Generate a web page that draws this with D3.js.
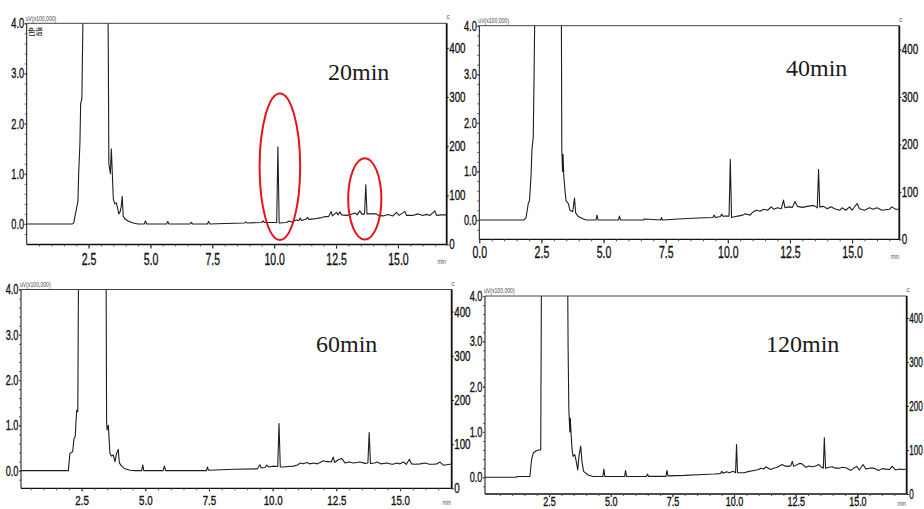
<!DOCTYPE html>
<html><head><meta charset="utf-8">
<script src="https://cdn.jsdelivr.net/npm/d3@7"></script>
<style>body{margin:0;background:#fff}svg{display:block}</style>
</head><body><svg id="c" width="924" height="509"></svg>
<script>
// ---------- data ----------
const panelLabels = ["20min", "40min", "60min", "120min"];
const leftTicks = [0, 1, 2, 3, 4];
const leftTickLabels = ["0.0", "1.0", "2.0", "3.0", "4.0"];
const rightTicks = [0, 100, 200, 300, 400];
const rightTickLabels = ["0", "100", "200", "300", "400"];
const timeTicks = [0, 2.5, 5, 7.5, 10, 12.5, 15];
const timeTickLabels = ["0.0", "2.5", "5.0", "7.5", "10.0", "12.5", "15.0"];
const leftUnit = "uV(x100,000)";
const rightUnit = "c";
const timeUnit = "min";
const traceTitle = "色谱";

// [time (min), signal (uV x100,000)]
const trace20 = [[0,0],[1.85,0],[1.9,0.02],[1.97,0.2],[2.03,0.35],[2.07,0.45],[2.1,1.0],[2.15,1.6],[2.18,2.4],[2.23,2.5],[2.27,4.0],[2.3,4.6],
[3.28,4.6],[3.3,3.2],[3.32,1.2],[3.38,1.0],[3.42,1.5],[3.46,1.0],[3.5,0.5],[3.56,0.4],[3.62,0.42],[3.68,0.3],[3.72,0.2],[3.78,0.25],[3.82,0.35],[3.86,0.55],[3.9,0.15],[3.97,0.1],[4.1,0.06],[4.3,0.02],[4.5,0.0],[4.75,0.0],[4.8,0.06],[4.85,0.0],[5.65,0.0],[5.7,0.05],[5.75,0.0],[6.6,0.0],[6.65,0.03],[6.7,0.0],[7.3,0.0],[7.35,0.05],[7.4,0.0],[8.0,0.01],[8.8,0.02],[8.85,0.04],[8.9,0.02],[9.5,0.03],[9.55,0.06],[9.6,0.03],[9.9,0.03],[10.1,0.03],[10.15,1.54],[10.2,0.02],[10.5,0.03],[10.6,0.06],[10.7,0.04],[10.9,0.08],[11.0,0.07],[11.05,0.12],[11.1,0.07],[11.3,0.1],[11.35,0.13],[11.4,0.09],[11.6,0.1],[11.85,0.12],[12.0,0.14],[12.2,0.15],[12.3,0.25],[12.35,0.16],[12.52,0.23],[12.58,0.18],[12.66,0.24],[12.72,0.18],[12.93,0.17],[13.1,0.19],[13.26,0.22],[13.35,0.18],[13.46,0.26],[13.55,0.19],[13.65,0.2],[13.7,0.78],[13.75,0.2],[13.9,0.2],[14.13,0.2],[14.2,0.17],[14.4,0.16],[14.6,0.19],[14.8,0.16],[14.94,0.23],[15.05,0.17],[15.28,0.25],[15.35,0.17],[15.6,0.17],[15.82,0.2],[16.0,0.17],[16.15,0.19],[16.3,0.17],[16.49,0.26],[16.56,0.17],[16.75,0.18],[17,0.18]];

const trace40 = [[0,0],[1.8,0],[1.88,0.05],[1.93,0.2],[1.97,0.34],[2.02,0.4],[2.05,0.65],[2.08,0.9],[2.12,1.45],[2.17,1.7],[2.2,2.8],[2.24,4.6],
[3.3,4.6],[3.32,1.45],[3.35,1.0],[3.37,1.35],[3.4,0.9],[3.45,0.6],[3.49,0.4],[3.58,0.34],[3.65,0.2],[3.76,0.17],[3.83,0.45],[3.88,0.14],[3.99,0.07],[4.19,0.02],[4.33,0.0],[4.7,0.0],[4.73,0.1],[4.78,0.0],[5.6,0.0],[5.64,0.08],[5.68,0.0],[6.6,0.0],[6.65,0.02],[7.3,0.0],[7.33,0.05],[7.37,0.0],[8.0,0.02],[8.8,0.04],[9.4,0.05],[9.45,0.1],[9.5,0.05],[9.7,0.07],[9.75,0.12],[9.8,0.08],[10.05,0.08],[10.1,1.25],[10.15,0.05],[10.4,0.08],[10.6,0.1],[10.7,0.13],[10.9,0.1],[11.0,0.16],[11.15,0.2],[11.3,0.18],[11.45,0.22],[11.6,0.2],[11.75,0.27],[11.85,0.22],[12.0,0.25],[12.15,0.23],[12.24,0.41],[12.3,0.25],[12.45,0.27],[12.6,0.26],[12.7,0.38],[12.8,0.28],[13.0,0.26],[13.2,0.28],[13.45,0.3],[13.55,0.27],[13.6,0.25],[13.65,1.04],[13.7,0.27],[13.85,0.28],[14.0,0.23],[14.15,0.27],[14.3,0.23],[14.5,0.2],[14.6,0.25],[14.75,0.2],[14.9,0.27],[15.0,0.2],[15.2,0.34],[15.3,0.23],[15.5,0.2],[15.7,0.25],[15.85,0.22],[16.0,0.25],[16.2,0.2],[16.5,0.22],[16.6,0.27],[16.75,0.22],[16.9,0.22]];

const trace60 = [[0.1,0],[1.98,0],[2.04,0.38],[2.1,0.4],[2.15,0.42],[2.2,0.71],[2.25,0.75],[2.28,1.1],[2.31,1.33],[2.35,1.3],[2.38,4.6],
[3.46,4.6],[3.48,1.1],[3.5,0.9],[3.55,1.0],[3.58,0.7],[3.61,0.38],[3.68,0.32],[3.74,0.35],[3.81,0.2],[3.87,0.38],[3.94,0.47],[3.98,0.17],[4.07,0.1],[4.2,0.04],[4.4,0.01],[4.6,0],[4.86,0],[4.9,0.13],[4.94,0],[5.7,0],[5.75,0.1],[5.8,0],[6.5,0],[7.4,0],[7.44,0.08],[7.48,0.01],[8.5,0.03],[9.4,0.04],[9.5,0.13],[9.55,0.06],[9.7,0.07],[9.77,0.12],[9.85,0.08],[10.03,0.1],[10.2,0.09],[10.25,1.04],[10.3,0.08],[10.42,0.08],[10.6,0.09],[10.82,0.1],[11.0,0.13],[11.08,0.17],[11.2,0.15],[11.34,0.18],[11.45,0.15],[11.6,0.17],[11.75,0.15],[11.86,0.18],[11.99,0.22],[12.1,0.2],[12.19,0.2],[12.3,0.19],[12.38,0.3],[12.43,0.18],[12.58,0.24],[12.71,0.27],[12.84,0.17],[13.0,0.19],[13.17,0.17],[13.3,0.18],[13.43,0.19],[13.63,0.16],[13.74,0.17],[13.79,0.84],[13.84,0.16],[14.0,0.17],[14.1,0.19],[14.25,0.15],[14.48,0.17],[14.6,0.15],[14.74,0.14],[14.85,0.17],[15.0,0.15],[15.13,0.19],[15.25,0.14],[15.37,0.25],[15.45,0.15],[15.6,0.14],[15.79,0.15],[15.98,0.17],[16.15,0.14],[16.31,0.14],[16.45,0.15],[16.57,0.19],[16.7,0.12],[16.96,0.14],[17.1,0.14]];

const trace120 = [[-0.1,0],[1.18,0],[1.2,0.015],[1.72,0.015],[1.79,0.39],[1.86,0.54],[1.97,0.58],[2.06,0.6],[2.16,0.6],[2.19,4.6],
[3.25,4.6],[3.27,2.85],[3.3,1.5],[3.34,1.0],[3.36,1.3],[3.38,1.06],[3.43,0.61],[3.47,0.46],[3.54,0.5],[3.6,0.35],[3.66,0.16],[3.71,0.46],[3.78,0.69],[3.84,0.31],[3.9,0.13],[4.08,0.05],[4.28,0.015],[4.68,0.015],[4.72,0.18],[4.76,0.015],[5.56,0.015],[5.6,0.15],[5.64,0.015],[6.45,0.02],[6.49,0.07],[6.53,0.02],[7.24,0.02],[7.28,0.15],[7.32,0.03],[8.0,0.04],[8.74,0.06],[9.2,0.07],[9.45,0.08],[9.5,0.13],[9.55,0.09],[9.7,0.12],[9.8,0.1],[9.97,0.13],[10.06,0.1],[10.1,0.72],[10.14,0.1],[10.4,0.1],[10.61,0.13],[10.81,0.15],[11.0,0.17],[11.08,0.2],[11.2,0.18],[11.28,0.23],[11.48,0.17],[11.6,0.2],[11.75,0.22],[11.95,0.28],[12.05,0.25],[12.16,0.24],[12.3,0.25],[12.36,0.35],[12.42,0.24],[12.63,0.3],[12.74,0.3],[12.9,0.22],[13.05,0.25],[13.17,0.23],[13.3,0.25],[13.44,0.28],[13.55,0.22],[13.62,0.2],[13.66,0.87],[13.71,0.2],[13.85,0.22],[13.99,0.23],[14.1,0.2],[14.26,0.2],[14.4,0.22],[14.53,0.21],[14.74,0.15],[14.85,0.2],[14.97,0.24],[15.08,0.16],[15.23,0.28],[15.35,0.18],[15.5,0.2],[15.67,0.2],[15.87,0.15],[16.0,0.19],[16.14,0.18],[16.3,0.17],[16.41,0.24],[16.55,0.16],[16.7,0.18],[16.87,0.17],[17.0,0.18]];

// circled peaks in the 20 min run: centre time/value, half-width (min), half-height (signal)
const circledPeaks = [{t: 10.23, v: 1.14, dt: 0.82, dv: 1.46}, {t: 13.66, v: 0.5, dt: 0.67, dv: 0.81}];

// ---------- layout ----------
const panels = [
  {data: trace20, label: panelLabels[0], l: 26.7, t: 23.3, r: 446.7, b: 244.5, xd: [0, 16.97], yMin: -0.41, zero: false, xPad: 4.5, xTick: 4, xFont: 17, rScale: 0.7, lab: [328, 80], title: true, circles: circledPeaks, minPos: [441.7, 264]},
  {data: trace40, label: panelLabels[1], l: 479.3, t: 25.7, r: 899.3, b: 239.4, xd: [0, 16.9], yMin: -0.40, zero: true, xPad: 3, xTick: 4, xFont: 17, rScale: 0.7, lab: [786, 75.5], minPos: [895, 259]},
  {data: trace60, label: panelLabels[2], l: 21, t: 289.5, r: 451.7, b: 488.3, xd: [0.12, 17.03], yMin: -0.39, zero: false, xPad: 4.8, xTick: 3, xFont: 13, rScale: 0.7, lab: [316, 351.5], minPos: [446.7, 505]},
  {data: trace120, label: panelLabels[3], l: 485, t: 296, r: 906.7, b: 494, xd: [-0.1, 17.0], yMin: -0.37, zero: false, xPad: 0.5, xTick: 3, xFont: 12, rScale: 0.58, lab: [766, 351.5], minPos: [901.7, 505.5]}
];

const SANS = "'Liberation Sans', Arial, sans-serif";
const svg = d3.select("#c");

function condense(sel, s) {
  sel.selectAll("text").each(function () {
    const t = d3.select(this);
    const xx = +t.attr("x") || 0, yy = +t.attr("y") || 0;
    t.attr("x", null).attr("y", null).attr("transform", `translate(${xx},${yy}) scale(${s},1)`)
      .attr("fill", "#111").attr("stroke", "#111").attr("stroke-width", 0.35);
  });
}

panels.forEach((p, i) => {
  const g = svg.append("g");
  const x = d3.scaleLinear().domain(p.xd).range([p.l, p.r]);
  const y = d3.scaleLinear().domain([p.yMin, 4]).range([p.b, p.t]);
  const yR = d3.scaleLinear().domain([0, 450]).range([p.b, p.t]);

  const cid = "clip" + i;
  svg.append("clipPath").attr("id", cid).append("rect")
    .attr("x", p.l).attr("y", p.t).attr("width", p.r - p.l).attr("height", p.b - p.t);

  // trace
  g.append("path").datum(p.data)
    .attr("clip-path", `url(#${cid})`)
    .attr("fill", "none").attr("stroke", "#1e1e1e").attr("stroke-width", 1.1).attr("stroke-linejoin", "round")
    .attr("d", d3.line().x(d => x(d[0])).y(d => y(d[1])));

  // frame
  g.append("line").attr("x1", p.l).attr("x2", p.r).attr("y1", p.t).attr("y2", p.t).attr("stroke", "#444").attr("stroke-width", 1);
  g.append("line").attr("x1", p.l).attr("x2", p.l).attr("y1", p.t).attr("y2", p.b).attr("stroke", "#111").attr("stroke-width", 1);
  g.append("line").attr("x1", p.l).attr("x2", p.r).attr("y1", p.b).attr("y2", p.b).attr("stroke", "#111").attr("stroke-width", 1.3);
  g.append("line").attr("x1", p.r).attr("x2", p.r).attr("y1", p.t).attr("y2", p.b).attr("stroke", "#111").attr("stroke-width", 1.8);

  // left axis
  const la = g.append("g").attr("transform", `translate(${p.l},0)`)
    .call(d3.axisLeft(y).tickValues(leftTicks).tickFormat((d, k) => leftTickLabels[k]).tickSize(2).tickPadding(0.5));
  la.select(".domain").remove();
  la.attr("font-family", SANS).attr("font-size", 14);
  condense(la, 0.66);
  const lm = g.append("g").attr("transform", `translate(${p.l},0)`)
    .call(d3.axisLeft(y).tickValues(d3.range(-0.2, 4.01, 0.2)).tickFormat("").tickSize(2));
  lm.select(".domain").remove();
  lm.selectAll("line").attr("stroke", "#555");

  // right axis
  const ra = g.append("g").attr("transform", `translate(${p.r},0)`)
    .call(d3.axisRight(yR).tickValues(rightTicks).tickFormat((d, k) => rightTickLabels[k]).tickSize(2).tickPadding(0.5));
  ra.select(".domain").remove();
  ra.attr("font-family", SANS).attr("font-size", 14);
  condense(ra, p.rScale);

  // bottom axis
  const tv = p.zero ? timeTicks : timeTicks.slice(1);
  const tl = p.zero ? timeTickLabels : timeTickLabels.slice(1);
  const ba = g.append("g").attr("transform", `translate(0,${p.b})`)
    .call(d3.axisBottom(x).tickValues(tv).tickFormat((d, k) => tl[k]).tickSize(p.xTick).tickPadding(p.xPad));
  ba.select(".domain").remove();
  ba.attr("font-family", SANS).attr("font-size", p.xFont);
  condense(ba, p.xFont < 15 ? 0.75 : 0.62);
  const bm = g.append("g").attr("transform", `translate(0,${p.b})`)
    .call(d3.axisBottom(x).tickValues(d3.range(0.5, 16.9, 0.5)).tickFormat("").tickSize(2));
  bm.select(".domain").remove();
  bm.selectAll("line").attr("stroke", "#555");

  // unit captions
  g.append("text").attr("transform", `translate(${p.l - 1},${p.t - 2.6}) scale(0.68,1)`)
    .attr("font-family", SANS).attr("font-size", 7.5).attr("fill", "#444").text(leftUnit);
  g.append("text").attr("transform", `translate(${p.r + 1.5},${p.t - 4}) scale(0.8,1)`)
    .attr("font-family", SANS).attr("font-size", 8).attr("fill", "#555").attr("text-anchor", "middle").text(rightUnit);
  g.append("text").attr("transform", `translate(${p.minPos[0]},${p.minPos[1]}) scale(0.75,1)`)
    .attr("font-family", SANS).attr("font-size", 7).attr("fill", "#555").attr("text-anchor", "middle").text(timeUnit);
  if (p.title) {
    g.append("text").attr("transform", `translate(${p.l + 1},${p.t + 12}) scale(0.8,1)`)
      .attr("font-family", "'Noto Sans CJK SC', sans-serif").attr("font-size", 9.5).attr("fill", "#222").text(traceTitle);
  }

  // panel label
  g.append("text").attr("x", p.lab[0]).attr("y", p.lab[1])
    .attr("font-family", "'Liberation Serif', 'Times New Roman', serif").attr("font-size", 24).attr("fill", "#1a1a1a")
    .text(p.label);

  // circled peaks
  if (p.circles) {
    g.selectAll("ellipse").data(p.circles).join("ellipse")
      .attr("cx", d => x(d.t)).attr("cy", d => y(d.v))
      .attr("rx", d => x(d.t + d.dt) - x(d.t)).attr("ry", d => y(d.v - d.dv) - y(d.v))
      .attr("fill", "none").attr("stroke", "#e3141c").attr("stroke-width", 2);
  }
});
</script></body></html>
